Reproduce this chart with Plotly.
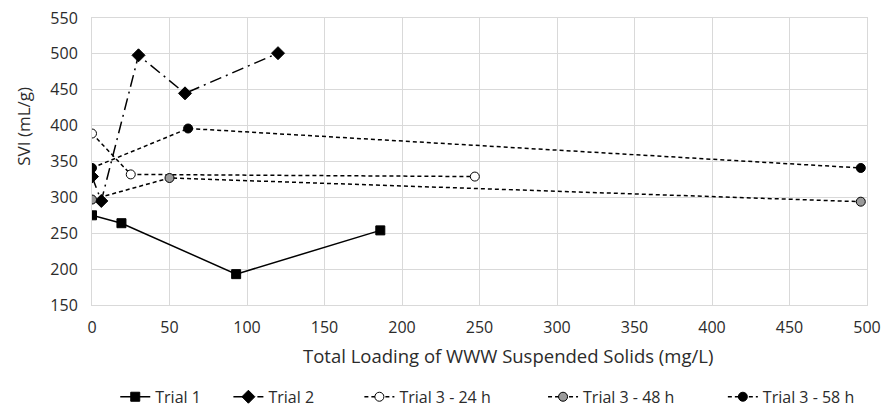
import plotly.graph_objects as go

# Total loading of WWW suspended solids (mg/L) and SVI (mL/g) per trial
t1_x = [0, 19, 93, 186]
t1_y = [275, 264, 193, 254]

t2_x = [0, 6, 30, 60, 120]
t2_y = [329, 295, 498, 445, 501]

t3_24_x = [0, 25, 247]
t3_24_y = [389, 332, 329]

t3_48_x = [0, 50, 496]
t3_48_y = [297, 327, 294]

t3_58_x = [0, 62, 496]
t3_58_y = [341, 396, 341]

x_title = "Total Loading of WWW Suspended Solids (mg/L)"
y_title = "SVI (mL/g)"

font_family = "'Open Sans', sans-serif"
text_color = "#2b2b2b"

# name, x, y, dash, marker symbol, marker fill, marker size, legend slot
series = [
    ("Trial 1", t1_x, t1_y, "solid", "square", "black", 9, 0.030),
    ("Trial 2", t2_x, t2_y, "12px,5px,2px,5px", "diamond", "black", 10, 0.176),
    ("Trial 3 - 24 h", t3_24_x, t3_24_y, "4px,3px", "circle", "white", 9, 0.345),
    ("Trial 3 - 48 h", t3_48_x, t3_48_y, "4px,3px", "circle", "#9a9a9a", 9, 0.582),
    ("Trial 3 - 58 h", t3_58_x, t3_58_y, "4px,3px", "circle", "black", 9, 0.814),
]

fig = go.Figure()
legends = {}
for i, (name, xs, ys, dash, sym, fill, size, lx) in enumerate(series):
    key = "legend" if i == 0 else f"legend{i + 1}"
    fig.add_trace(go.Scatter(
        x=xs, y=ys, name=name, mode="lines+markers", legend=key,
        line=dict(color="black", width=1.5, dash=dash),
        marker=dict(symbol=sym, size=size, color=fill,
                    line=dict(color="black", width=1)),
    ))
    legends[key] = dict(orientation="h", x=lx, xanchor="left",
                        y=-0.32, yanchor="middle", bgcolor="rgba(0,0,0,0)",
                        font=dict(size=16, color=text_color))

grid = "#d9d9d9"
axis_common = dict(showgrid=True, gridcolor=grid, gridwidth=1, zeroline=False,
                   showline=True, linecolor=grid, mirror=True, ticks="",
                   automargin=False,
                   tickfont=dict(size=16, color=text_color))

fig.update_layout(
    width=883, height=409,
    margin=dict(l=92, r=16, t=18, b=104, autoexpand=False),
    paper_bgcolor="white", plot_bgcolor="white",
    font=dict(family=font_family, size=16, color=text_color),
    showlegend=True,
    xaxis=dict(range=[0, 500], dtick=50, ticklabelstandoff=8, **axis_common),
    yaxis=dict(range=[150, 550], dtick=50, ticklabelstandoff=10, **axis_common),
    annotations=[
        dict(text=x_title, xref="paper", yref="paper", x=0.537, y=-0.175,
             xanchor="center", yanchor="middle", showarrow=False,
             font=dict(size=18.5, color=text_color)),
        dict(text=y_title, xref="paper", yref="paper", x=-0.088, y=0.624,
             xanchor="center", yanchor="middle", showarrow=False, textangle=-90,
             font=dict(size=17, color=text_color)),
    ],
    **legends,
)

fig.write_html("out.html")
